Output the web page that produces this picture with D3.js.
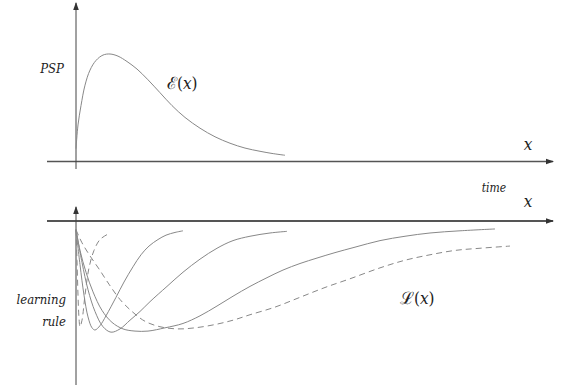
<!DOCTYPE html>
<html>
<head>
<meta charset="utf-8">
<script src="https://cdn.jsdelivr.net/npm/d3@7"></script>
<style>
  body { margin: 0; background: #fff; }
  svg { display: block; }
  .curve { fill: none; stroke: #888; stroke-width: 1; }
</style>
</head>
<body>
<div id="chart"></div>
<script>
// PSP kernel E(x): [time, value]
const pspCurve = [
  [0, 0.12], [0.1, 0.34], [0.25, 0.52], [0.45, 0.71], [0.7, 0.85], [1.0, 0.94],
  [1.35, 0.99], [1.7, 1.0], [2.1, 0.98], [2.55, 0.93], [3.05, 0.86], [3.6, 0.76],
  [4.2, 0.64], [4.8, 0.52], [5.45, 0.41], [6.2, 0.31], [6.95, 0.23], [7.7, 0.17],
  [8.45, 0.125], [9.2, 0.095], [9.8, 0.075], [10.45, 0.058]
];

// learning rule curves L(x), narrowest first
const ruleA = [
  [0, -0.08], [0.05, -0.36], [0.1, -0.68], [0.15, -0.89], [0.2, -0.97], [0.3, -0.91],
  [0.45, -0.68], [0.65, -0.43], [0.9, -0.27], [1.2, -0.17], [1.6, -0.12]
];
const ruleB = [
  [0, -0.08], [0.2, -0.40], [0.4, -0.68], [0.6, -0.88], [0.8, -0.98], [0.95, -1.0],
  [1.2, -0.96], [1.5, -0.87], [2.0, -0.70], [2.4, -0.56], [2.85, -0.42], [3.25, -0.31],
  [3.65, -0.23], [4.1, -0.17], [4.5, -0.13], [4.95, -0.105], [5.35, -0.09]
];
const ruleC = [
  [0, -0.08], [0.3, -0.38], [0.6, -0.63], [0.95, -0.83], [1.35, -0.97], [1.75, -1.02],
  [2.2, -0.99], [2.7, -0.91], [3.2, -0.83], [3.7, -0.74], [4.55, -0.60], [5.35, -0.47],
  [6.2, -0.35], [7.05, -0.25], [7.85, -0.18], [8.7, -0.14], [9.7, -0.11], [10.55, -0.095]
];
const ruleD = [
  [0, -0.08], [0.3, -0.20], [0.7, -0.32], [1.15, -0.44], [1.65, -0.58], [2.2, -0.72],
  [2.8, -0.83], [3.45, -0.92], [4.2, -0.97], [5.1, -0.99], [5.95, -0.98], [6.95, -0.95],
  [7.85, -0.91], [8.7, -0.86], [9.95, -0.79], [11.2, -0.70], [12.45, -0.61], [13.7, -0.53],
  [15.2, -0.43], [16.45, -0.36], [17.7, -0.31], [18.95, -0.27], [20.2, -0.25], [21.7, -0.23]
];
const ruleE = [
  [0, -0.08], [0.2, -0.27], [0.5, -0.47], [0.85, -0.65], [1.3, -0.82], [1.8, -0.93],
  [2.35, -0.99], [2.95, -1.01], [3.6, -1.01], [4.45, -0.98], [5.35, -0.94], [6.2, -0.87],
  [7.05, -0.78], [7.85, -0.69], [8.7, -0.60], [9.55, -0.52], [10.35, -0.45], [11.2, -0.39],
  [12.05, -0.34], [12.95, -0.29], [13.95, -0.24], [15.2, -0.18], [16.45, -0.14],
  [17.7, -0.11], [19.2, -0.09], [20.95, -0.073]
];
const ruleSeries = [
  {data: ruleA, dashed: true},
  {data: ruleB, dashed: false},
  {data: ruleC, dashed: false},
  {data: ruleE, dashed: false},
  {data: ruleD, dashed: true}
];

const width = 569, height = 385;
const serif = '"DejaVu Serif Condensed", "DejaVu Serif", serif';
const svg = d3.select('#chart').append('svg')
  .attr('width', width)
  .attr('height', height);

// scales: shared time axis, one value scale per panel
const xScale = d3.scaleLinear().domain([0, 10]).range([76, 276]);
const yTop = d3.scaleLinear().domain([0, 1]).range([161.5, 54]);
const yBottom = d3.scaleLinear().domain([-1, 0]).range([330, 221]);

// arrow head
svg.append('defs').append('marker')
  .attr('id', 'arrow')
  .attr('viewBox', '0 -4 8 8')
  .attr('refX', 7).attr('refY', 0)
  .attr('markerUnits', 'userSpaceOnUse')
  .attr('markerWidth', 8).attr('markerHeight', 8)
  .attr('orient', 'auto')
  .append('path')
  .attr('d', 'M0,-2.8L8,0L0,2.8Z')
  .attr('fill', '#333');

const xMin = xScale.invert(47), xMax = xScale.invert(553);

// top panel axes
svg.append('line')
  .attr('x1', xScale(xMin)).attr('x2', xScale(xMax))
  .attr('y1', yTop(0)).attr('y2', yTop(0))
  .attr('stroke', '#555').attr('stroke-width', 1.5)
  .attr('marker-end', 'url(#arrow)');
svg.append('line')
  .attr('x1', xScale(0)).attr('x2', xScale(0))
  .attr('y1', 169).attr('y2', 3)
  .attr('stroke', '#444').attr('stroke-width', 1)
  .attr('marker-end', 'url(#arrow)');

// bottom panel axes
svg.append('line')
  .attr('x1', xScale(xMin)).attr('x2', xScale(xMax))
  .attr('y1', yBottom(0)).attr('y2', yBottom(0))
  .attr('stroke', '#555').attr('stroke-width', 2)
  .attr('marker-end', 'url(#arrow)');
svg.append('line')
  .attr('x1', xScale(0)).attr('x2', xScale(0))
  .attr('y1', 385).attr('y2', 207)
  .attr('stroke', '#444').attr('stroke-width', 1)
  .attr('marker-end', 'url(#arrow)');

const lineTop = d3.line()
  .x(d => xScale(d[0]))
  .y(d => yTop(d[1]))
  .curve(d3.curveCatmullRom.alpha(0.5));

const lineBottom = d3.line()
  .x(d => xScale(d[0]))
  .y(d => yBottom(d[1]))
  .curve(d3.curveCatmullRom.alpha(0.5));

svg.append('path')
  .attr('class', 'curve')
  .attr('d', lineTop(pspCurve));

svg.selectAll('.rule')
  .data(ruleSeries)
  .join('path')
  .attr('class', 'curve rule')
  .attr('d', d => lineBottom(d.data))
  .attr('stroke-dasharray', d => d.dashed ? '6,4' : null);

// labels
const addText = (x, y, size, anchor, parts) => {
  const t = svg.append('text')
    .attr('x', x).attr('y', y)
    .attr('font-family', serif)
    .attr('font-size', size)
    .attr('fill', '#222')
    .attr('text-anchor', anchor);
  parts.forEach(p => {
    t.append('tspan')
      .attr('font-style', p.upright ? 'normal' : 'italic')
      .text(p.s);
  });
  return t;
};

addText(64, 73, 13, 'end', [{s: 'PSP'}]);
addText(167, 89, 17, 'start', [
  {s: '\u2130', upright: true}, {s: '(', upright: true}, {s: 'x'}, {s: ')', upright: true}
]);
addText(528, 150, 17, 'middle', [{s: 'x'}]);
addText(494, 192, 12, 'middle', [{s: 'time'}]);
addText(528, 207, 17, 'middle', [{s: 'x'}]);
addText(66, 304, 13, 'end', [{s: 'learning'}]);
addText(66, 326, 13, 'end', [{s: 'rule'}]);
addText(400, 304, 17, 'start', [
  {s: '\u2112', upright: true}, {s: '(', upright: true}, {s: 'x'}, {s: ')', upright: true}
]);
</script>
</body>
</html>
